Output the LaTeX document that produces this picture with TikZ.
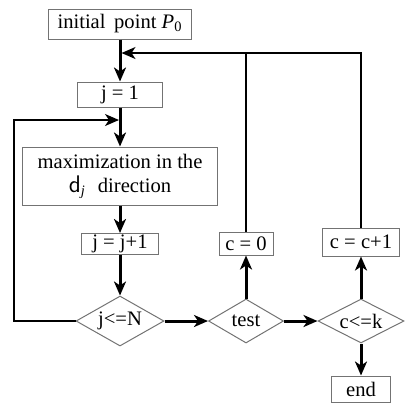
\documentclass[tikz,border=0pt]{standalone}
\usepackage{fontspec}
\setmainfont{Liberation Serif}
\usetikzlibrary{arrows.meta, shapes.geometric}

\begin{document}
\begin{tikzpicture}[x=0.5pt,y=-0.5pt,->,>={Stealth[length=7pt,width=6pt,inset=2pt]},
  line width=1.5pt,font=\fontsize{10.3}{12}\selectfont,
  box node/.style={rectangle,draw=black!55,line width=0.5pt,inner sep=0pt,align=center},
  test node/.style={diamond,draw=black!55,line width=0.5pt,inner sep=0pt,aspect=2},
  back line/.style={line width=0.8pt}]
  \useasboundingbox (0,0) rectangle (405,404);
  \node[box node,minimum width=71.5pt,minimum height=15pt] (P0) at (120,24) {initial\, point \textit{P}\textsubscript{0}};
  \node[box node,minimum width=42.5pt,minimum height=12.5pt] (j1) at (120,94.5) {j = 1};
  \node[box node,minimum width=97.5pt,minimum height=29pt] (max) at (120,176) {maximization in the\\\textsf{\large d}\textsubscript{\textit{j}}\,\, direction};
  \node[box node,minimum width=38.5pt,minimum height=10.5pt] (jj1) at (120,244) {j = j+1};
  \node[test node,minimum width=44pt,minimum height=25pt] (jN) at (120,321) {j<=N};
  \node[test node,minimum width=37.5pt,minimum height=22pt] (test) at (246,321) {test};
  \node[test node,minimum width=43pt,minimum height=22pt] (ck) at (361,321) {c<=k};
  \node[box node,minimum width=27pt,minimum height=11.5pt] (c0) at (246,243.5) {c = 0};
  \node[box node,minimum width=38.5pt,minimum height=14pt] (cc1) at (361,242) {c = c+1};
  \node[box node,minimum width=29.5pt,minimum height=13pt] (end) at (361,389) {end};
  \coordinate (top) at (121.5,53);
  \coordinate (loop) at (14,120);
  \coordinate (in) at (119,120);
  \path (P0) edge (j1)
        (j1) edge (max)
        (max) edge (jj1)
        (jj1) edge (jN)
        (jN) edge (test)
        (test) edge (ck)
        (test) edge (c0)
        (ck) edge (cc1)
        (ck) edge (end);
  \draw[back line] (cc1.north) |- (top);
  \draw[back line,-] (c0.north) -- (c0.north |- top);
  \draw[back line] (jN.west) -| (loop) -- (in);
\end{tikzpicture}
\end{document}
